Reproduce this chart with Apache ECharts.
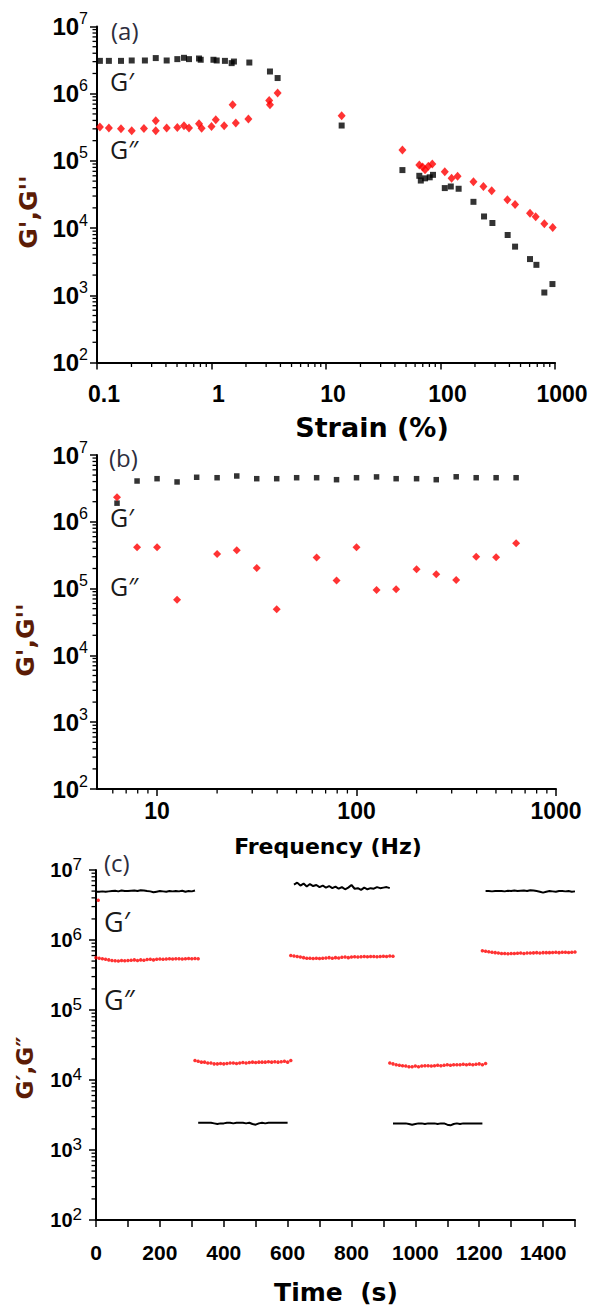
<!DOCTYPE html>
<html><head><meta charset="utf-8">
<script src="https://cdn.jsdelivr.net/npm/echarts@6/dist/echarts.min.js"></script>
<style>html,body{margin:0;padding:0;background:#fff}#c{width:593px;height:1306px}</style>
</head><body><div id="c"></div>
<script>
// ---------- Panel (a): strain sweep ----------
const strainGp = [0.106,0.127,0.162,0.201,0.262,0.326,0.406,0.503,0.575,0.636,0.778,0.805,1.04,1.11,1.31,1.5,1.57,2.14,3.24,3.78,13.7,46.5,65.3,67.3,73.3,80.5,86,109,123,144,194,240,284,386,448,605,688,807,950];
const gpA = [3.08e6,3.08e6,3.08e6,3.12e6,3.12e6,3.39e6,3.12e6,3.27e6,3.42e6,3.27e6,3.34e6,3.2e6,3.2e6,3.12e6,3.08e6,2.85e6,3.01e6,2.91e6,2.14e6,1.71e6,3.36e5,7.3e4,6.0e4,5.1e4,5.5e4,5.7e4,6.2e4,3.94e4,4.16e4,3.85e4,2.46e4,1.49e4,1.19e4,7.9e3,5.3e3,3.46e3,2.84e3,1.1e3,1.47e3];
const strainGpp = [0.106,0.127,0.162,0.201,0.257,0.326,0.326,0.406,0.503,0.575,0.636,0.778,0.82,1.0,1.09,1.29,1.53,1.63,2.1,3.19,3.24,3.78,13.7,46.5,65.3,69.8,73.3,78.3,84.8,109,125,141,194,237,280,384,448,605,678,807,955];
const gppA = [3.2e5,3.08e5,3.0e5,2.8e5,3.03e5,3.95e5,2.8e5,3.08e5,3.15e5,3.33e5,3.08e5,3.56e5,3.05e5,3.25e5,4.1e5,3.33e5,6.84e5,3.65e5,4.19e5,7.95e5,6.84e5,1.02e6,4.69e5,1.45e5,8.7e4,8.1e4,7.4e4,8.3e4,9.0e4,6.9e4,5.5e4,5.9e4,4.9e4,4.16e4,3.59e4,2.64e4,2.24e4,1.67e4,1.47e4,1.16e4,1.02e4];

// ---------- Panel (b): frequency sweep ----------
const freqGp = [6.3,7.94,10,12.6,15.8,20,25.1,31.6,39.8,50.1,63.1,79.4,100,126,158,200,251,316,398,501,631];
const gpB = [1.9e6,4.08e6,4.42e6,3.95e6,4.64e6,4.57e6,4.85e6,4.42e6,4.42e6,4.57e6,4.57e6,4.27e6,4.57e6,4.7e6,4.42e6,4.42e6,4.27e6,4.72e6,4.57e6,4.57e6,4.57e6];
const freqGpp = [6.3,7.94,10,12.6,20,25.1,31.6,39.8,63.1,79.4,100,126,158,200,251,316,398,501,631];
const gppB = [2.33e6,4.17e5,4.17e5,6.78e4,3.3e5,3.75e5,2.04e5,4.92e4,2.91e5,1.32e5,4.17e5,9.57e4,9.8e4,1.95e5,1.64e5,1.35e5,3.01e5,2.95e5,4.78e5];

// ---------- Panel (c): step strain recovery ----------
const tGp1 = [0,10,20,30,40,50,60,70,80,90,100,110,120,130,140,150,160,170,180,190,200,210,220,230,240,250,260,270,280,290,300,310];
const gp1 = [4.9e6,4.9e6,4.95e6,4.9e6,4.95e6,5.0e6,5.05e6,4.95e6,5.1e6,5.0e6,5.0e6,5.05e6,5.1e6,5.0e6,5.15e6,5.1e6,5.0e6,4.95e6,4.8e6,4.9e6,5.0e6,4.95e6,4.9e6,5.0e6,4.95e6,5.0e6,4.95e6,5.05e6,4.9e6,5.0e6,4.95e6,5.1e6];
const tGpp1 = [0,10,20,30,40,50,60,70,80,90,100,110,120,130,140,150,160,170,180,190,200,210,220,230,240,250,260,270,280,290,300,310,320];
const gpp1 = [5.6e5,5.5e5,5.4e5,5.3e5,5.2e5,5.1e5,5.05e5,5.0e5,5.1e5,5.05e5,5.1e5,5.15e5,5.2e5,5.1e5,5.2e5,5.15e5,5.25e5,5.3e5,5.2e5,5.3e5,5.35e5,5.3e5,5.35e5,5.4e5,5.35e5,5.4e5,5.4e5,5.35e5,5.4e5,5.45e5,5.4e5,5.45e5,5.4e5];
const tGp2 = [320,330,340,350,360,370,380,390,400,410,420,430,440,450,460,470,480,490,500,510,520,530,540,550,560,570,580,590,600];
const gp2 = [2.45e3,2.45e3,2.45e3,2.45e3,2.45e3,2.4e3,2.35e3,2.4e3,2.4e3,2.45e3,2.45e3,2.4e3,2.45e3,2.45e3,2.45e3,2.4e3,2.45e3,2.35e3,2.3e3,2.4e3,2.45e3,2.4e3,2.45e3,2.45e3,2.45e3,2.45e3,2.45e3,2.45e3,2.45e3];
const tGpp2 = [310,320,330,340,350,360,370,380,390,400,410,420,430,440,450,460,470,480,490,500,510,520,530,540,550,560,570,580,590,600,610];
const gpp2 = [1.9e4,1.85e4,1.8e4,1.8e4,1.75e4,1.75e4,1.7e4,1.7e4,1.72e4,1.7e4,1.72e4,1.75e4,1.75e4,1.72e4,1.75e4,1.78e4,1.75e4,1.78e4,1.8e4,1.78e4,1.8e4,1.8e4,1.8e4,1.82e4,1.8e4,1.82e4,1.8e4,1.82e4,1.85e4,1.8e4,1.9e4];
const tGp3 = [620,630,640,650,660,670,680,690,700,710,720,730,740,750,760,770,780,790,800,810,820,830,840,850,860,870,880,890,900,910,920];
const gp3 = [6.2e6,6.6e6,6.0e6,6.4e6,5.8e6,6.3e6,5.9e6,6.1e6,5.7e6,6.0e6,5.6e6,5.9e6,5.5e6,5.8e6,5.4e6,5.7e6,5.3e6,5.6e6,6.1e6,5.4e6,5.5e6,5.2e6,5.6e6,5.3e6,5.5e6,5.4e6,5.7e6,5.5e6,5.6e6,5.7e6,5.5e6];
const tGpp3 = [610,620,630,640,650,660,670,680,690,700,710,720,730,740,750,760,770,780,790,800,810,820,830,840,850,860,870,880,890,900,910,920,930];
const gpp3 = [6.0e5,5.9e5,5.8e5,5.7e5,5.6e5,5.5e5,5.5e5,5.45e5,5.5e5,5.45e5,5.5e5,5.55e5,5.6e5,5.5e5,5.6e5,5.55e5,5.65e5,5.7e5,5.6e5,5.7e5,5.75e5,5.7e5,5.75e5,5.8e5,5.75e5,5.8e5,5.8e5,5.75e5,5.8e5,5.85e5,5.8e5,5.9e5,5.85e5];
const tGp4 = [930,940,950,960,970,980,990,1000,1010,1020,1030,1040,1050,1060,1070,1080,1090,1100,1110,1120,1130,1140,1150,1160,1170,1180,1190,1200,1210];
const gp4 = [2.4e3,2.4e3,2.4e3,2.4e3,2.4e3,2.35e3,2.3e3,2.35e3,2.4e3,2.4e3,2.35e3,2.4e3,2.4e3,2.4e3,2.35e3,2.4e3,2.4e3,2.3e3,2.25e3,2.35e3,2.4e3,2.35e3,2.4e3,2.4e3,2.4e3,2.4e3,2.4e3,2.4e3,2.4e3];
const tGpp4 = [920,930,940,950,960,970,980,990,1000,1010,1020,1030,1040,1050,1060,1070,1080,1090,1100,1110,1120,1130,1140,1150,1160,1170,1180,1190,1200,1210,1220];
const gpp4 = [1.75e4,1.7e4,1.65e4,1.62e4,1.6e4,1.58e4,1.55e4,1.55e4,1.58e4,1.55e4,1.58e4,1.6e4,1.6e4,1.58e4,1.6e4,1.62e4,1.6e4,1.62e4,1.65e4,1.62e4,1.65e4,1.65e4,1.65e4,1.68e4,1.65e4,1.68e4,1.65e4,1.68e4,1.7e4,1.65e4,1.72e4];
const tGp5 = [1220,1230,1240,1250,1260,1270,1280,1290,1300,1310,1320,1330,1340,1350,1360,1370,1380,1390,1400,1410,1420,1430,1440,1450,1460,1470,1480,1490,1500];
const gp5 = [5.0e6,5.0e6,4.95e6,5.0e6,5.0e6,5.0e6,4.95e6,5.05e6,5.0e6,5.1e6,5.0e6,5.05e6,5.1e6,5.0e6,5.15e6,5.1e6,5.0e6,4.9e6,4.75e6,4.9e6,5.0e6,4.95e6,4.9e6,5.0e6,5.0e6,4.95e6,5.0e6,4.9e6,4.95e6];
const tGpp5 = [1210,1220,1230,1240,1250,1260,1270,1280,1290,1300,1310,1320,1330,1340,1350,1360,1370,1380,1390,1400,1410,1420,1430,1440,1450,1460,1470,1480,1490,1500];
const gpp5 = [7.0e5,6.9e5,6.8e5,6.7e5,6.6e5,6.5e5,6.4e5,6.4e5,6.35e5,6.4e5,6.4e5,6.45e5,6.5e5,6.4e5,6.5e5,6.5e5,6.55e5,6.6e5,6.5e5,6.6e5,6.6e5,6.6e5,6.65e5,6.7e5,6.6e5,6.7e5,6.7e5,6.65e5,6.7e5,6.75e5];
const tOut = [7];
const gppOut = [3.7e6];

// ---------- axis extents and log minor-tick multipliers ----------
const yRange = [1e2, 1e7];
const xRangeA = [0.1, 1000];
const xRangeB = [5, 1000];
const xRangeC = [0, 1500];
const minorMult = [2, 3, 4, 5, 6, 7, 8, 9];
const yDecades = [1e2, 1e3, 1e4, 1e5, 1e6];
const xDecadesA = [0.1, 1, 10, 100];
const xDecadesB = [1, 10, 100];

const zip = (xs, ys) => xs.map((x, i) => [x, ys[i]]);

const chart = echarts.init(document.getElementById('c'), null, {renderer: 'svg'});

const BLACK = '#000000', RED = '#ff0000', TITLE = '#5b1c06';
const TICKF = 'Liberation Sans';
const plain = v => String(Number(Number(v).toPrecision(6)));

function yLabel(baseSize, supSize, lh) {
  return {
    formatter: v => '{b|10}{s|' + Math.round(Math.log10(v)) + '}',
    rich: {
      b: {fontFamily: TICKF, fontWeight: 'bold', fontSize: baseSize, color: '#000', lineHeight: lh},
      s: {fontFamily: TICKF, fontSize: supSize, color: '#000', lineHeight: supSize, verticalAlign: 'top'}
    }
  };
}
const axisLine = {show: true, onZero: false, lineStyle: {color: '#000', width: 2}};
const axisTick = {show: true, inside: false, length: 7, lineStyle: {color: '#000', width: 1.5}};

const grids = [
  {left: 97, top: 26.5, width: 458, height: 336},
  {left: 97, top: 455, width: 459, height: 334},
  {left: 96, top: 870, width: 479, height: 350}
].map(g => Object.assign({containLabel: false, outerBoundsMode: 'none', show: false}, g));

const yAxes = [0, 1, 2].map(i => {
  const lab = i < 2 ? yLabel(24, 16, 32) : yLabel(20, 17, 28);
  return {
    type: 'log', logBase: 10, gridIndex: i, min: yRange[0], max: yRange[1],
    axisLine, axisTick, splitLine: {show: false},
    axisLabel: Object.assign({margin: i < 2 ? 9 : 14}, lab)
  };
});

const xAxes = [
  {type: 'log', logBase: 10, gridIndex: 0, min: xRangeA[0], max: xRangeA[1], axisLine, axisTick,
   splitLine: {show: false},
   axisLabel: {margin: 20, formatter: plain, fontFamily: TICKF, fontWeight: 'bold', fontSize: 23, color: '#000', padding: [0, 0, 0, 14]}},
  {type: 'log', logBase: 10, gridIndex: 1, min: xRangeB[0], max: xRangeB[1], axisLine, axisTick,
   splitLine: {show: false},
   axisLabel: {margin: 10, formatter: plain, fontFamily: TICKF, fontWeight: 'bold', fontSize: 23, color: '#000', showMinLabel: false}},
  {type: 'value', gridIndex: 2, min: xRangeC[0], max: xRangeC[1], interval: 200, axisLine,
   axisTick: {show: true, length: 7, lineStyle: {color: '#000', width: 1.5}},
   minorTick: {show: true, splitNumber: 2, length: 7, lineStyle: {color: '#000', width: 1.5}},
   splitLine: {show: false},
   axisLabel: {margin: 22, formatter: plain, fontFamily: TICKF, fontWeight: 'bold', fontSize: 21, color: '#000', showMaxLabel: false}}
];

const sq = (xi, data, size) => ({type: 'scatter', xAxisIndex: xi, yAxisIndex: xi, data, symbol: 'rect', symbolSize: size, itemStyle: {color: BLACK}, z: 3});
const dm = (xi, data, size) => ({type: 'scatter', xAxisIndex: xi, yAxisIndex: xi, data, symbol: 'diamond', symbolSize: size, itemStyle: {color: RED}, z: 4});
const ln = (data) => ({type: 'line', xAxisIndex: 2, yAxisIndex: 2, data, showSymbol: false, symbol: 'none', lineStyle: {color: BLACK, width: 2}, z: 3});
const dots = (data) => ({type: 'scatter', xAxisIndex: 2, yAxisIndex: 2, data, symbol: 'circle', symbolSize: 3.5, itemStyle: {color: RED}, z: 4});

// minor ticks of the log axes, drawn through the axes' own scales
function minorSeries(gi, data, dir) {
  return {
    type: 'custom', xAxisIndex: gi, yAxisIndex: gi, data, clip: false, silent: true, z: 10,
    renderItem: (params, api) => {
      const p = api.coord([api.value(0), api.value(1)]);
      const shape = dir === 'y'
        ? {x1: p[0] - 4.5, y1: p[1], x2: p[0], y2: p[1]}
        : {x1: p[0], y1: p[1], x2: p[0], y2: p[1] + 4.5};
      return {type: 'line', shape, style: {stroke: '#000', lineWidth: 1.3}};
    }
  };
}
const mults = (decs, lo, hi) => {
  const out = [];
  decs.forEach(d => minorMult.forEach(m => { const v = m * d; if (v > lo && v < hi) out.push(v); }));
  return out;
};
const yMinor = mults(yDecades, yRange[0], yRange[1]);
const xMinorA = mults(xDecadesA, xRangeA[0], xRangeA[1]);
const xMinorB = mults(xDecadesB, xRangeB[0], xRangeB[1]);

const series = [
  sq(0, zip(strainGp, gpA), 6),
  dm(0, zip(strainGpp, gppA), [8, 9]),
  sq(1, zip(freqGp, gpB), 5.5),
  dm(1, zip(freqGpp, gppB), [8, 8]),
  ln(zip(tGp1, gp1)), ln(zip(tGp2, gp2)), ln(zip(tGp3, gp3)), ln(zip(tGp4, gp4)), ln(zip(tGp5, gp5)),
  dots(zip(tGpp1, gpp1)), dots(zip(tGpp2, gpp2)), dots(zip(tGpp3, gpp3)), dots(zip(tGpp4, gpp4)), dots(zip(tGpp5, gpp5)),
  dots(zip(tOut, gppOut)),
  minorSeries(0, yMinor.map(v => [xRangeA[0], v]), 'y'),
  minorSeries(1, yMinor.map(v => [xRangeB[0], v]), 'y'),
  minorSeries(2, yMinor.map(v => [xRangeC[0], v]), 'y'),
  minorSeries(0, xMinorA.map(v => [v, yRange[0]]), 'x'),
  minorSeries(1, xMinorB.map(v => [v, yRange[0]]), 'x')
];

const txt = (text, x, y, font, color, extra) => ({
  type: 'text', x, y, silent: true,
  style: Object.assign({text, font, fill: color, textAlign: 'left', textVerticalAlign: 'middle'}, extra || {})
});
const ANN = '#2d2d3d';
const texts = [
  txt('(a)', 111, 30, '24px "Open Sans"', ANN),
  txt('G\u2032', 110, 81, '25px "Open Sans"', '#1a1a1a'),
  txt('G\u2033', 110, 149, '25px "Open Sans"', '#1a1a1a'),
  txt('Strain (%)', 372, 427, 'bold 27px "DejaVu Sans"', '#000', {textAlign: 'center'}),
  Object.assign(txt("G',G''", 28, 212, 'bold 25px "DejaVu Sans"', TITLE, {textAlign: 'center'}), {rotation: Math.PI / 2}),

  txt('(b)', 109, 457, '24px "Open Sans"', ANN),
  txt('G\u2032', 110, 517, '25px "Open Sans"', '#1a1a1a'),
  txt('G\u2033', 110, 586, '25px "Open Sans"', '#1a1a1a'),
  txt('Frequency (Hz)', 328, 846, 'bold 22px "DejaVu Sans"', '#000', {textAlign: 'center'}),
  Object.assign(txt("G',G''", 25, 640, 'bold 25px "DejaVu Sans"', TITLE, {textAlign: 'center'}), {rotation: Math.PI / 2}),

  txt('(c)', 104, 862, '24px "Open Sans"', ANN),
  txt('G\u2032', 104, 921, '27px "Open Sans"', '#1a1a1a'),
  txt('G\u2033', 104, 999, '27px "Open Sans"', '#1a1a1a'),
  txt('Time  (s)', 336, 1292, 'bold 25px "DejaVu Sans"', '#000', {textAlign: 'center'}),
  Object.assign(txt('G\u2032,G\u2033', 25, 1068, 'bold 23px "DejaVu Sans"', TITLE, {textAlign: 'center'}), {rotation: Math.PI / 2})
];

chart.setOption({
  animation: false,
  backgroundColor: '#fff',
  grid: grids, xAxis: xAxes, yAxis: yAxes, series,
  graphic: texts
});
</script>
</body></html>
